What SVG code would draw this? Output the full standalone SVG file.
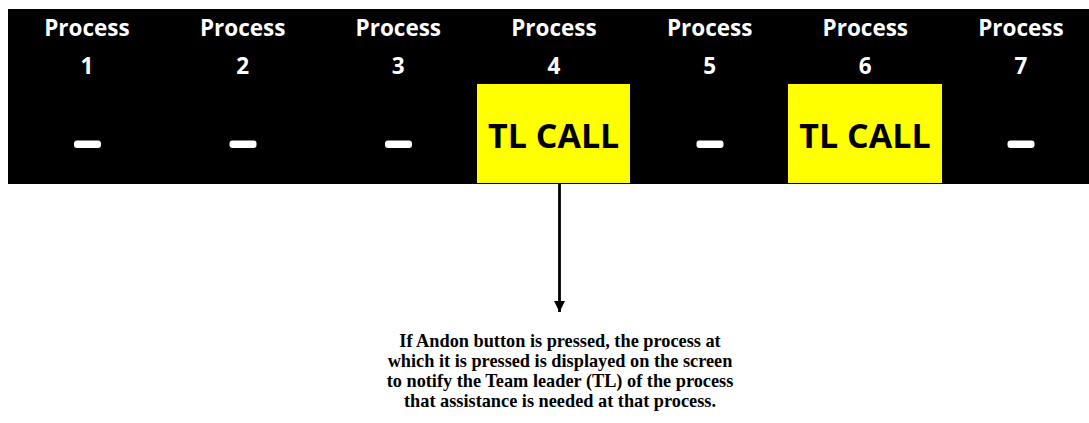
<svg xmlns="http://www.w3.org/2000/svg" width="1089" height="423" viewBox="0 0 1089 423">
<defs>
<style>
.lbl{font-family:"Open Sans","Liberation Sans",sans-serif;font-weight:bold;font-size:22.5px;fill:#fff;text-anchor:middle}
.dash{fill:#fff}
.call{fill:#ffff00}
.calltxt{font-family:"Open Sans","Liberation Sans",sans-serif;font-weight:bold;font-size:34px;fill:#000;text-anchor:middle}
.note{font-family:"Liberation Serif","Times New Roman",serif;font-weight:bold;font-size:18.3px;fill:#000;text-anchor:middle}
</style>
<marker id="ah" markerWidth="11" markerHeight="11" refX="10" refY="5" orient="auto" markerUnits="userSpaceOnUse" viewBox="0 0 10 10">
<path d="M0,0 L10,5 L0,10 Z" fill="#000"/>
</marker>
</defs>
<rect x="0" y="0" width="1089" height="423" fill="#fff"/>
<rect id="board" x="8" y="9" width="1081" height="175" fill="#000"/>
<g id="p1"><text class="lbl" x="87" y="36">Process</text><text class="lbl" x="87" y="74">1</text><rect class="dash" x="74" y="140.5" width="27" height="7.5" rx="3"/></g>
<g id="p2"><text class="lbl" x="242.7" y="36">Process</text><text class="lbl" x="242.7" y="74">2</text><rect class="dash" x="229.5" y="140.5" width="27" height="7.5" rx="3"/></g>
<g id="p3"><text class="lbl" x="398.3" y="36">Process</text><text class="lbl" x="398.3" y="74">3</text><rect class="dash" x="385" y="140.5" width="27" height="7.5" rx="3"/></g>
<g id="p4"><text class="lbl" x="554" y="36">Process</text><text class="lbl" x="554" y="74">4</text><rect class="call" x="477" y="84" width="153" height="99"/><text class="calltxt" x="553.7" y="147.5">TL CALL</text></g>
<g id="p5"><text class="lbl" x="709.7" y="36">Process</text><text class="lbl" x="709.7" y="74">5</text><rect class="dash" x="696.5" y="140.5" width="27" height="7.5" rx="3"/></g>
<g id="p6"><text class="lbl" x="865.3" y="36">Process</text><text class="lbl" x="865.3" y="74">6</text><rect class="call" x="788" y="84" width="154" height="99"/><text class="calltxt" x="865" y="147.5">TL CALL</text></g>
<g id="p7"><text class="lbl" x="1021" y="36">Process</text><text class="lbl" x="1021" y="74">7</text><rect class="dash" x="1007.5" y="140.5" width="27" height="7.5" rx="3"/></g>
<g id="connectors"><line x1="559.5" y1="184" x2="559.5" y2="312" stroke="#000" stroke-width="2.8" marker-end="url(#ah)"/></g>
<g id="note">
<text class="note" x="560" y="347">If Andon button is pressed, the process at</text>
<text class="note" x="560" y="367">which it is pressed is displayed on the screen</text>
<text class="note" x="560" y="387">to notify the Team leader (TL) of the process</text>
<text class="note" x="560" y="407">that assistance is needed at that process.</text>
</g>
</svg>
